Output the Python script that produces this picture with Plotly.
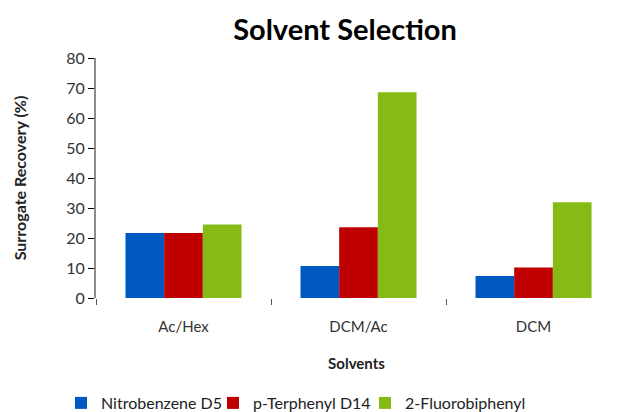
import plotly.graph_objects as go

# Surrogate recovery (%) by extraction solvent
solvents = ["Ac/Hex", "DCM/Ac", "DCM"]
nitrobenzene_d5 = [21.7, 10.7, 7.3]
p_terphenyl_d14 = [21.7, 23.6, 10.2]
fluorobiphenyl = [24.5, 68.6, 31.9]

series = [
    ("Nitrobenzene D5", nitrobenzene_d5, "#0059C1"),
    ("p-Terphenyl D14", p_terphenyl_d14, "#C00000"),
    ("2-Fluorobiphenyl", fluorobiphenyl, "#86BB15"),
]

y_ticks = [0, 10, 20, 30, 40, 50, 60, 70, 80]

FONT = "Lato"

# one legend box per series so each entry sits at its own left edge
legend_ids = ["legend", "legend2", "legend3"]
legend_left_px = [61, 213, 365]

fig = go.Figure()
for (name, values, color), lid in zip(series, legend_ids):
    fig.add_trace(go.Bar(
        name=name,
        x=solvents,
        y=values,
        marker=dict(color=color, line=dict(width=0)),
        legend=lid,
    ))

W, H = 617, 412

legend_layout = {}
for lid, left in zip(legend_ids, legend_left_px):
    legend_layout[lid] = dict(
        orientation="h",
        xref="container",
        x=left / W, xanchor="left",
        yref="container",
        y=1 - 403 / H, yanchor="middle",
        font=dict(family=FONT, size=16, color="#222222"),
        itemwidth=30,
        bgcolor="rgba(0,0,0,0)",
    )

fig.update_layout(
    width=W,
    height=H,
    margin=dict(l=96, r=0, t=58, b=114, autoexpand=False),
    paper_bgcolor="white",
    plot_bgcolor="white",
    barmode="group",
    bargap=0.337,
    bargroupgap=0,
    font=dict(family=FONT, color="#333333"),
    title=dict(
        text="<b>Solvent Selection</b>",
        x=345 / W, xanchor="center",
        y=1 - 30 / H, yanchor="middle",
        font=dict(family=FONT, size=29, color="#000000"),
    ),
    showlegend=True,
    **legend_layout,
)

fig.update_xaxes(
    range=[-0.5, 2.477],
    showline=False,
    showgrid=False,
    ticks="outside",
    tickson="boundaries",
    ticklen=6,
    tickwidth=1,
    tickcolor="#555555",
    ticklabelstandoff=18,
    tickfont=dict(family=FONT, size=15, color="#333333"),
    title=dict(text="<b>Solvents</b>", font=dict(family=FONT, size=15, color="#222222"), standoff=24),
)

fig.update_yaxes(
    range=[0, 80],
    tickvals=y_ticks,
    showline=True,
    linecolor="#8C8C8C",
    linewidth=2,
    showgrid=False,
    zeroline=False,
    ticks="outside",
    ticklen=6,
    tickwidth=1,
    tickcolor="#000000",
    tickfont=dict(family=FONT, size=16, color="#333333"),
    title=dict(text="<b>Surrogate Recovery (%)</b>", font=dict(family=FONT, size=16, color="#222222"), standoff=36),
)

fig.write_html("out.html")
